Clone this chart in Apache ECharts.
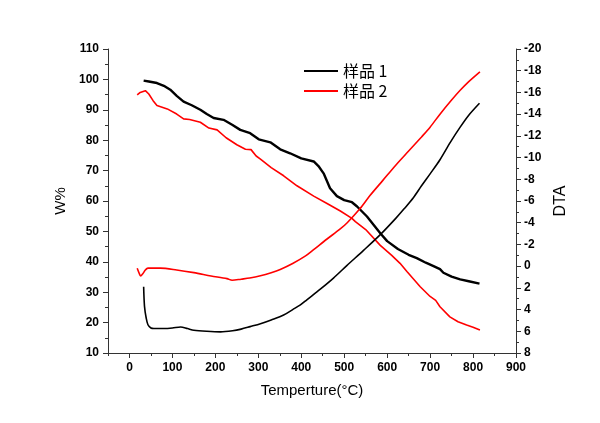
<!DOCTYPE html>
<html>
<head>
<meta charset="utf-8">
<script src="https://cdn.jsdelivr.net/npm/echarts@6.0.0/dist/echarts.min.js"></script>
<style>
  html, body { margin: 0; padding: 0; background: #fff; }
  #chart { width: 600px; height: 423px; }
</style>
</head>
<body>
<div id="chart"></div>
<script>
// temperature (C) / W% for the TG curves, temperature / DTA for the DTA curves
var sample1Tg = [
  [33, 99.6], [45, 99.3], [64, 98.8], [80, 97.9], [95, 96.6], [110, 94.6], [126, 92.7],
  [145, 91.5], [165, 90.0], [180, 88.6], [196, 87.3], [219, 86.7], [240, 85.0], [258, 83.4],
  [281, 82.3], [301, 80.3], [328, 79.3], [351, 77.0], [374, 75.7], [400, 74.0], [429, 73.0],
  [440, 71.5], [452, 69.1], [467, 64.2], [483, 61.6], [500, 60.3], [518, 59.6], [530, 58.2],
  [553, 54.9], [584, 49.4], [600, 46.8], [625, 44.2], [650, 42.3], [669, 41.2], [690, 39.7],
  [708, 38.6], [723, 37.6], [731, 36.4], [750, 35.1], [770, 34.2], [790, 33.6], [815, 32.8]
]
var sample2Tg = [
  [18, 94.9], [25, 95.7], [37, 96.3], [45, 95.2], [55, 93.0], [64, 91.4], [88, 90.3],
  [110, 88.6], [126, 87.0], [140, 86.8], [165, 85.9], [185, 84.0], [204, 83.4], [225, 80.8],
  [250, 78.5], [270, 77.0], [283, 76.9], [295, 74.8], [305, 73.8], [330, 71.0], [359, 68.3],
  [390, 65.0], [429, 61.6], [460, 59.2], [491, 56.7], [518, 54.3], [526, 53.2], [550, 50.6],
  [584, 45.4], [610, 42.2], [630, 39.5], [646, 36.8], [677, 31.8], [700, 28.6], [713, 27.3],
  [723, 25.2], [746, 21.9], [765, 20.3], [785, 19.2], [800, 18.5], [816, 17.6]
]
var sample1Dta = [
  [33, 1.9], [35, 3.7], [39, 4.8], [43, 5.4], [50, 5.7], [57, 5.75], [80, 5.75], [100, 5.7],
  [119, 5.6], [135, 5.75], [150, 5.9], [180, 6.0], [212, 6.05], [240, 5.95], [260, 5.8],
  [281, 5.57], [305, 5.3], [330, 4.95], [359, 4.5], [380, 4.0], [398, 3.57], [413, 3.1],
  [445, 2.1], [475, 1.1], [506, -0.05], [545, -1.45], [584, -2.9], [620, -4.4], [640, -5.3],
  [661, -6.3], [680, -7.4], [700, -8.5], [723, -9.8], [747, -11.4], [770, -12.8],
  [790, -13.9], [815, -15.0]
]
var sample2Dta = [
  [18, 0.2], [22, 0.6], [26, 0.9], [31, 0.7], [37, 0.35], [43, 0.18], [72, 0.18], [110, 0.35],
  [150, 0.6], [190, 0.9], [227, 1.15], [239, 1.3], [260, 1.2], [280, 1.1], [305, 0.89],
  [330, 0.6], [351, 0.3], [380, -0.25], [410, -0.95], [428, -1.5], [460, -2.5], [490, -3.4],
  [507, -4.0], [537, -5.3], [560, -6.5], [590, -7.9], [620, -9.3], [650, -10.6], [680, -11.9],
  [700, -12.8], [723, -14.0], [750, -15.3], [770, -16.2], [790, -17.0], [816, -17.9]
]
var xMajorTicks = [0, 100, 200, 300, 400, 500, 600, 700, 800, 900]
var xMinorTicks = [-50, 50, 150, 250, 350, 450, 550, 650, 750, 850]
var names = ['样品 1', '样品 2']

var axisColor = '#333'
var labelStyle = {
  fontFamily: 'Liberation Sans, Arial, sans-serif',
  fontWeight: 700,
  fontSize: 12,
  color: '#000'
}
var nameStyle = {
  fontFamily: 'Liberation Sans, Arial, sans-serif',
  fontSize: 15,
  color: '#000'
}

var chart = echarts.init(document.getElementById('chart'))
chart.setOption({
  animation: false,
  color: ['#000000', '#ff0000'],
  grid: { left: 108, right: 84, top: 49, bottom: 70, containLabel: false },
  legend: {
    data: names,
    orient: 'vertical',
    left: 299,
    top: 58,
    icon: 'rect',
    itemWidth: 34,
    itemHeight: 2,
    itemGap: 4,
    textStyle: { fontFamily: 'Noto Sans CJK SC', fontSize: 16, color: '#000' }
  },
  xAxis: [
    {
      type: 'value',
      min: -50,
      max: 900,
      name: 'Temperture(°C)',
      nameLocation: 'middle',
      nameGap: 30,
      nameTextStyle: nameStyle,
      splitLine: { show: false },
      axisLine: { show: true, onZero: false, lineStyle: { color: axisColor, width: 1 } },
      axisTick: { show: true, length: 5, customValues: xMajorTicks, lineStyle: { color: axisColor } },
      axisLabel: Object.assign({ customValues: xMajorTicks, margin: 9 }, labelStyle)
    },
    {
      // only the short ticks between the labelled ones
      type: 'value',
      min: -50,
      max: 900,
      position: 'bottom',
      splitLine: { show: false },
      axisLine: { show: false, onZero: false },
      axisTick: { show: true, length: 3, customValues: xMinorTicks, lineStyle: { color: axisColor } },
      axisLabel: { show: false }
    }
  ],
  yAxis: [
    {
      type: 'value',
      position: 'left',
      min: 10,
      max: 110,
      interval: 10,
      name: 'W%',
      nameLocation: 'middle',
      nameRotate: 90,
      nameGap: 40,
      nameTextStyle: nameStyle,
      splitLine: { show: false },
      axisLine: { show: true, onZero: false, lineStyle: { color: axisColor } },
      axisTick: { show: true, length: 5, lineStyle: { color: axisColor } },
      minorTick: { show: true, splitNumber: 2, length: 3, lineStyle: { color: axisColor } },
      axisLabel: Object.assign({ margin: 9 }, labelStyle)
    },
    {
      type: 'value',
      position: 'right',
      min: -20,
      max: 8,
      interval: 2,
      inverse: true,
      name: 'DTA',
      nameLocation: 'middle',
      nameRotate: 90,
      nameGap: 22,
      nameTextStyle: { fontFamily: 'Liberation Sans, Arial, sans-serif', fontSize: 16, color: '#000' },
      splitLine: { show: false },
      axisLine: { show: true, onZero: false, lineStyle: { color: axisColor } },
      axisTick: { show: true, length: 5, lineStyle: { color: axisColor } },
      minorTick: { show: true, splitNumber: 2, length: 3, lineStyle: { color: axisColor } },
      axisLabel: Object.assign({ margin: 8 }, labelStyle)
    }
  ],
  series: [
    { name: names[0], type: 'line', yAxisIndex: 0, data: sample1Tg, showSymbol: false, lineStyle: { width: 2.4, color: '#000' } },
    { name: names[1], type: 'line', yAxisIndex: 0, data: sample2Tg, showSymbol: false, lineStyle: { width: 1.6, color: '#ff0000' } },
    { name: names[0], type: 'line', yAxisIndex: 1, data: sample1Dta, showSymbol: false, smooth: 0.3, lineStyle: { width: 1.6, color: '#000' } },
    { name: names[1], type: 'line', yAxisIndex: 1, data: sample2Dta, showSymbol: false, smooth: 0.3, lineStyle: { width: 1.6, color: '#ff0000' } }
  ]
})
</script>
</body>
</html>
